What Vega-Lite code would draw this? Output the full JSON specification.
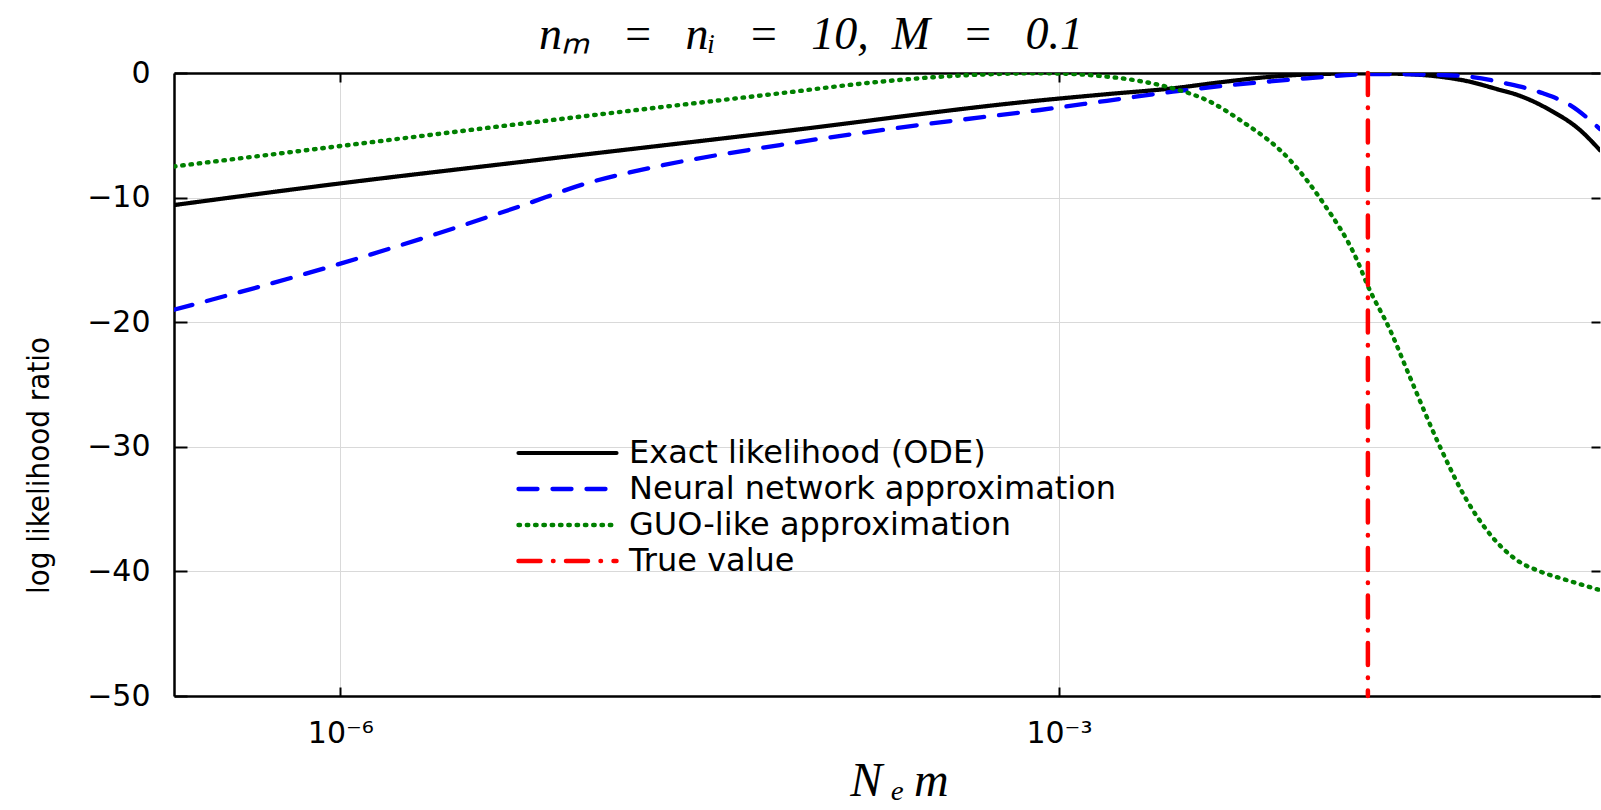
{
  "$schema": "https://vega.github.io/schema/vega-lite/v6.json",
  "autosize": {"type": "none"},
  "padding": {"left": 174, "top": 73, "right": 1, "bottom": 114},
  "width": 1426,
  "height": 623,
  "background": "white",
  "config": {"view": {"stroke": null}, "font": "DejaVu Sans"},
  "title": {"text": "nₘ\u2002\u2009=\u2002\u2009nᵢ\u2002\u2009=\u2002\u200910,\u2002M\u2002\u2009=\u2002\u20090.1", "font": "Liberation Serif", "fontStyle": "italic", "fontWeight": "normal", "fontSize": 46, "anchor": "middle", "dx": -76, "offset": -1, "color": "black"},
  "datasets": {
    "curves": [
      {"s": "Exact likelihood (ODE)", "x": 2.02e-7, "y": -10.6},
      {"s": "Exact likelihood (ODE)", "x": 1e-6, "y": -8.86},
      {"s": "Exact likelihood (ODE)", "x": 5.62e-6, "y": -7.15},
      {"s": "Exact likelihood (ODE)", "x": 6.84e-5, "y": -4.71},
      {"s": "Exact likelihood (ODE)", "x": 8.33e-4, "y": -2.2},
      {"s": "Exact likelihood (ODE)", "x": 1.585e-3, "y": -1.7},
      {"s": "Exact likelihood (ODE)", "x": 2.99e-3, "y": -1.23},
      {"s": "Exact likelihood (ODE)", "x": 4.7e-3, "y": -0.75},
      {"s": "Exact likelihood (ODE)", "x": 7.82e-3, "y": -0.29},
      {"s": "Exact likelihood (ODE)", "x": 1.085e-2, "y": -0.12},
      {"s": "Exact likelihood (ODE)", "x": 1.491e-2, "y": -0.05},
      {"s": "Exact likelihood (ODE)", "x": 2.05e-2, "y": -0.03},
      {"s": "Exact likelihood (ODE)", "x": 2.92e-2, "y": -0.1},
      {"s": "Exact likelihood (ODE)", "x": 3.9e-2, "y": -0.3},
      {"s": "Exact likelihood (ODE)", "x": 5.05e-2, "y": -0.65},
      {"s": "Exact likelihood (ODE)", "x": 6.93e-2, "y": -1.36},
      {"s": "Exact likelihood (ODE)", "x": 8.17e-2, "y": -1.75},
      {"s": "Exact likelihood (ODE)", "x": 0.1122, "y": -2.97},
      {"s": "Exact likelihood (ODE)", "x": 0.1497, "y": -4.57},
      {"s": "Exact likelihood (ODE)", "x": 0.1816, "y": -6.2},
      {"s": "Neural network approximation", "x": 2.02e-7, "y": -19.0},
      {"s": "Neural network approximation", "x": 1e-6, "y": -15.3},
      {"s": "Neural network approximation", "x": 2.53e-6, "y": -12.9},
      {"s": "Neural network approximation", "x": 5.62e-6, "y": -10.7},
      {"s": "Neural network approximation", "x": 1.069e-5, "y": -8.85},
      {"s": "Neural network approximation", "x": 2.018e-5, "y": -7.57},
      {"s": "Neural network approximation", "x": 6.84e-5, "y": -5.78},
      {"s": "Neural network approximation", "x": 2.63e-4, "y": -4.17},
      {"s": "Neural network approximation", "x": 8.33e-4, "y": -2.97},
      {"s": "Neural network approximation", "x": 1.585e-3, "y": -2.23},
      {"s": "Neural network approximation", "x": 2.99e-3, "y": -1.5},
      {"s": "Neural network approximation", "x": 1.085e-2, "y": -0.43},
      {"s": "Neural network approximation", "x": 2.05e-2, "y": -0.08},
      {"s": "Neural network approximation", "x": 3.9e-2, "y": -0.16},
      {"s": "Neural network approximation", "x": 5.05e-2, "y": -0.27},
      {"s": "Neural network approximation", "x": 7.42e-2, "y": -0.85},
      {"s": "Neural network approximation", "x": 0.105, "y": -1.63},
      {"s": "Neural network approximation", "x": 0.136, "y": -2.57},
      {"s": "Neural network approximation", "x": 0.1816, "y": -4.5},
      {"s": "GUO-like approximation", "x": 2.02e-7, "y": -7.5},
      {"s": "GUO-like approximation", "x": 1e-6, "y": -5.86},
      {"s": "GUO-like approximation", "x": 6.18e-6, "y": -3.99},
      {"s": "GUO-like approximation", "x": 6.84e-5, "y": -1.63},
      {"s": "GUO-like approximation", "x": 1.79e-4, "y": -0.7},
      {"s": "GUO-like approximation", "x": 3.61e-4, "y": -0.24},
      {"s": "GUO-like approximation", "x": 8.33e-4, "y": -0.02},
      {"s": "GUO-like approximation", "x": 1.585e-3, "y": -0.29},
      {"s": "GUO-like approximation", "x": 2.18e-3, "y": -0.65},
      {"s": "GUO-like approximation", "x": 2.99e-3, "y": -1.23},
      {"s": "GUO-like approximation", "x": 4.27e-3, "y": -2.3},
      {"s": "GUO-like approximation", "x": 5.7e-3, "y": -3.77},
      {"s": "GUO-like approximation", "x": 9.21e-3, "y": -6.98},
      {"s": "GUO-like approximation", "x": 1.266e-2, "y": -10.4},
      {"s": "GUO-like approximation", "x": 1.755e-2, "y": -15.0},
      {"s": "GUO-like approximation", "x": 1.95e-2, "y": -17.1},
      {"s": "GUO-like approximation", "x": 2.41e-2, "y": -20.6},
      {"s": "GUO-like approximation", "x": 2.92e-2, "y": -24.4},
      {"s": "GUO-like approximation", "x": 3.9e-2, "y": -30.0},
      {"s": "GUO-like approximation", "x": 5.05e-2, "y": -34.3},
      {"s": "GUO-like approximation", "x": 6.12e-2, "y": -36.7},
      {"s": "GUO-like approximation", "x": 8.17e-2, "y": -39.1},
      {"s": "GUO-like approximation", "x": 0.1019, "y": -40.0},
      {"s": "GUO-like approximation", "x": 0.132, "y": -40.7},
      {"s": "GUO-like approximation", "x": 0.1816, "y": -41.5}
    ],
    "truth": [{"s": "True value", "x": 0.0195}]
  },
  "layer": [
    {
      "data": {"name": "curves"},
      "mark": {"type": "line", "clip": true, "strokeCap": "round", "interpolate": "monotone"},
      "encoding": {
        "x": {"field": "x", "type": "quantitative",
          "scale": {"type": "log", "domain": [2.02e-7, 0.1816], "nice": false},
          "axis": {"orient": "bottom", "values": [1e-6, 1e-3],
            "labelExpr": "datum.value < 1e-4 ? '10⁻⁶' : '10⁻³'",
            "labelFontSize": 30, "labelColor": "black", "labelPadding": 31,
            "tickSize": -9, "tickColor": "black", "tickWidth": 2,
            "domainColor": "black", "domainWidth": 2.5,
            "grid": true, "gridColor": "#d9d9d9", "gridWidth": 1,
            "title": "N\u2009ₑ\u2009m", "titleFont": "Liberation Serif", "titleFontStyle": "italic", "titleFontWeight": "normal",
            "titleFontSize": 48, "titleColor": "black", "titleX": 725, "titleY": 99, "titleBaseline": "alphabetic", "titleAlign": "center"}},
        "y": {"field": "y", "type": "quantitative",
          "scale": {"domain": [-50, 0], "nice": false, "zero": false},
          "axis": {"orient": "left", "values": [0, -10, -20, -30, -40, -50],
            "labelFontSize": 30, "labelColor": "black", "labelPadding": 37,
            "tickSize": -13, "tickColor": "black", "tickWidth": 2,
            "domainColor": "black", "domainWidth": 2.5,
            "grid": true, "gridColor": "#d9d9d9", "gridWidth": 1,
            "title": "log likelihood ratio", "titleFont": "DejaVu Sans Condensed, DejaVu Sans", "titleFontSize": 31, "titleFontWeight": "normal", "titleColor": "black",
            "titleX": -135, "titleY": 392, "titleAngle": 270, "titleBaseline": "middle", "titleAlign": "center"}},
        "color": {"field": "s", "type": "nominal",
          "scale": {"domain": ["Exact likelihood (ODE)", "Neural network approximation", "GUO-like approximation", "True value"],
            "range": ["#000000", "#0000ff", "#008000", "#ff0000"]},
          "legend": {"orient": "none", "legendX": 342, "legendY": 362, "title": null,
            "labelFontSize": 32, "labelColor": "black", "labelLimit": 0, "labelOffset": 10,
            "symbolType": "stroke", "symbolSize": 9604, "symbolStrokeWidth": 4.4, "clipHeight": 36,
            "rowPadding": 0, "padding": 0,
            "encode": {"symbols": {"update": {"strokeCap": {"value": "round"}}}}}},
        "strokeDash": {"field": "s", "type": "nominal",
          "scale": {"domain": ["Exact likelihood (ODE)", "Neural network approximation", "GUO-like approximation", "True value"],
            "range": [[1, 0], [19, 15], [1.5, 6.8], [22, 12.5, 0.5, 12.5]]},
          "legend": null},
        "strokeWidth": {"field": "s", "type": "nominal",
          "scale": {"domain": ["Exact likelihood (ODE)", "Neural network approximation", "GUO-like approximation", "True value"],
            "range": [4.2, 4.5, 5, 4.5]},
          "legend": null}
      }
    },
    {
      "data": {"name": "truth"},
      "mark": {"type": "rule", "strokeWidth": 4.5, "strokeCap": "round"},
      "encoding": {
        "x": {"field": "x", "type": "quantitative",
          "axis": {"orient": "top", "values": [1e-6, 1e-3], "labels": false, "grid": false,
            "tickSize": -9, "tickColor": "black", "tickWidth": 2,
            "domainColor": "black", "domainWidth": 2.5, "title": null}},
        "color": {"field": "s", "type": "nominal"},
        "strokeDash": {"field": "s", "type": "nominal", "legend": null}
      }
    },
    {
      "data": {"name": "curves"},
      "mark": {"type": "point", "opacity": 0},
      "encoding": {
        "x": {"field": "x", "type": "quantitative", "axis": null},
        "y": {"field": "y", "type": "quantitative",
          "axis": {"orient": "right", "values": [0, -10, -20, -30, -40, -50], "labels": false, "grid": false,
            "domain": false, "tickSize": -9, "tickColor": "black", "tickWidth": 2, "title": null}}
      }
    }
  ],
  "resolve": {"axis": {"x": "independent", "y": "independent"}}
}
